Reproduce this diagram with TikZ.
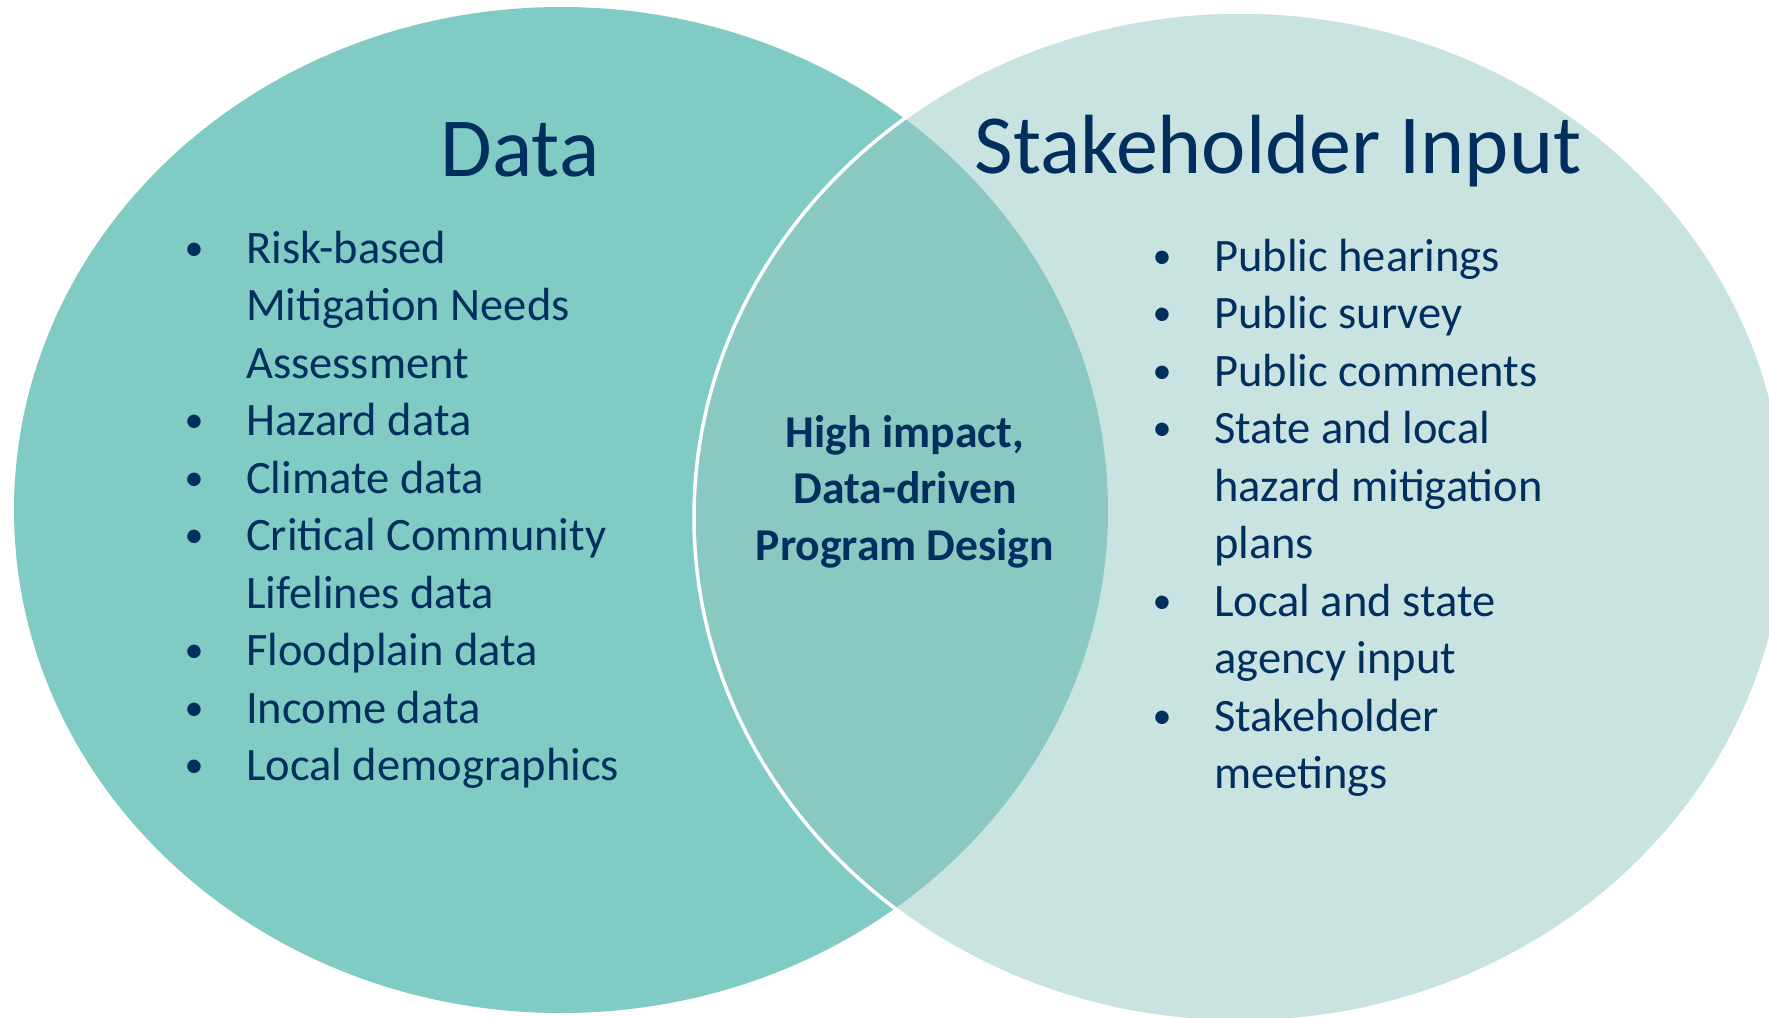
\documentclass[tikz,border=0pt]{standalone}
\usepackage{fontspec}
\setmainfont{Carlito}
\definecolor{leftfill}{RGB}{128,203,196}
\definecolor{rightfill}{RGB}{148,199,193}
\definecolor{navy}{RGB}{0,47,95}
\begin{document}
\begin{tikzpicture}[x=1pt,y=-1pt,
  title/.style={text=navy,font=\fontsize{84}{100}\selectfont,inner sep=0pt,anchor=base},
  item/.style={text=navy,font=\fontsize{46.5}{57}\selectfont,inner sep=0pt,anchor=base west},
  bul/.style={text=navy,font=\fontsize{38}{46}\selectfont,inner sep=0pt,anchor=base,yshift=3pt},
  mid/.style={text=navy,font=\fontsize{45.6}{57}\selectfont\bfseries,inner sep=0pt,anchor=base}]
\useasboundingbox (0,0) rectangle (1769,1017);
\clip (0,0) rectangle (1769,1017);
\fill[leftfill] (561,510) ellipse [x radius=547, y radius=503];
\path[fill=rightfill,fill opacity=0.5,draw=white,line width=3.5] (1240,517) ellipse [x radius=546, y radius=505];
% titles
\node[title] (tdata) at (520,176) {Data};
\node[title] (tstake) at (1278,173) {Stakeholder Input};
% left list
\node[bul] (lb1) at (194,263) {•};
\node[item] (l1) at (246,263) {Risk-based};
\node[item] (l2) at (246,320.5) {Mitigation Needs};
\node[item] (l3) at (246,378) {Assessment};
\node[bul] (lb2) at (194,435.5) {•};
\node[item] (l4) at (246,435.5) {Hazard data};
\node[bul] (lb3) at (194,493) {•};
\node[item] (l5) at (246,493) {Climate data};
\node[bul] (lb4) at (194,550.5) {•};
\node[item] (l6) at (246,550.5) {Critical Community};
\node[item] (l7) at (246,608) {Lifelines data};
\node[bul] (lb5) at (194,665.5) {•};
\node[item] (l8) at (246,665.5) {Floodplain data};
\node[bul] (lb6) at (194,723) {•};
\node[item] (l9) at (246,723) {Income data};
\node[bul] (lb7) at (194,780.5) {•};
\node[item] (l10) at (246,780.5) {Local demographics};
% right list
\node[bul] (rb1) at (1162,271) {•};
\node[item] (r1) at (1214,271) {Public hearings};
\node[bul] (rb2) at (1162,328.5) {•};
\node[item] (r2) at (1214,328.5) {Public survey};
\node[bul] (rb3) at (1162,386) {•};
\node[item] (r3) at (1214,386) {Public comments};
\node[bul] (rb4) at (1162,443.5) {•};
\node[item] (r4) at (1214,443.5) {State and local};
\node[item] (r5) at (1214,501) {hazard mitigation};
\node[item] (r6) at (1214,558.5) {plans};
\node[bul] (rb5) at (1162,616) {•};
\node[item] (r7) at (1214,616) {Local and state};
\node[item] (r8) at (1214,673.5) {agency input};
\node[bul] (rb6) at (1162,731) {•};
\node[item] (r9) at (1214,731) {Stakeholder};
\node[item] (r10) at (1214,788.5) {meetings};
% middle
\node[mid] (m1) at (905,447) {High impact,};
\node[mid] (m2) at (905,503.5) {Data-driven};
\node[mid] (m3) at (905,560) {Program Design};
\end{tikzpicture}
\end{document}
